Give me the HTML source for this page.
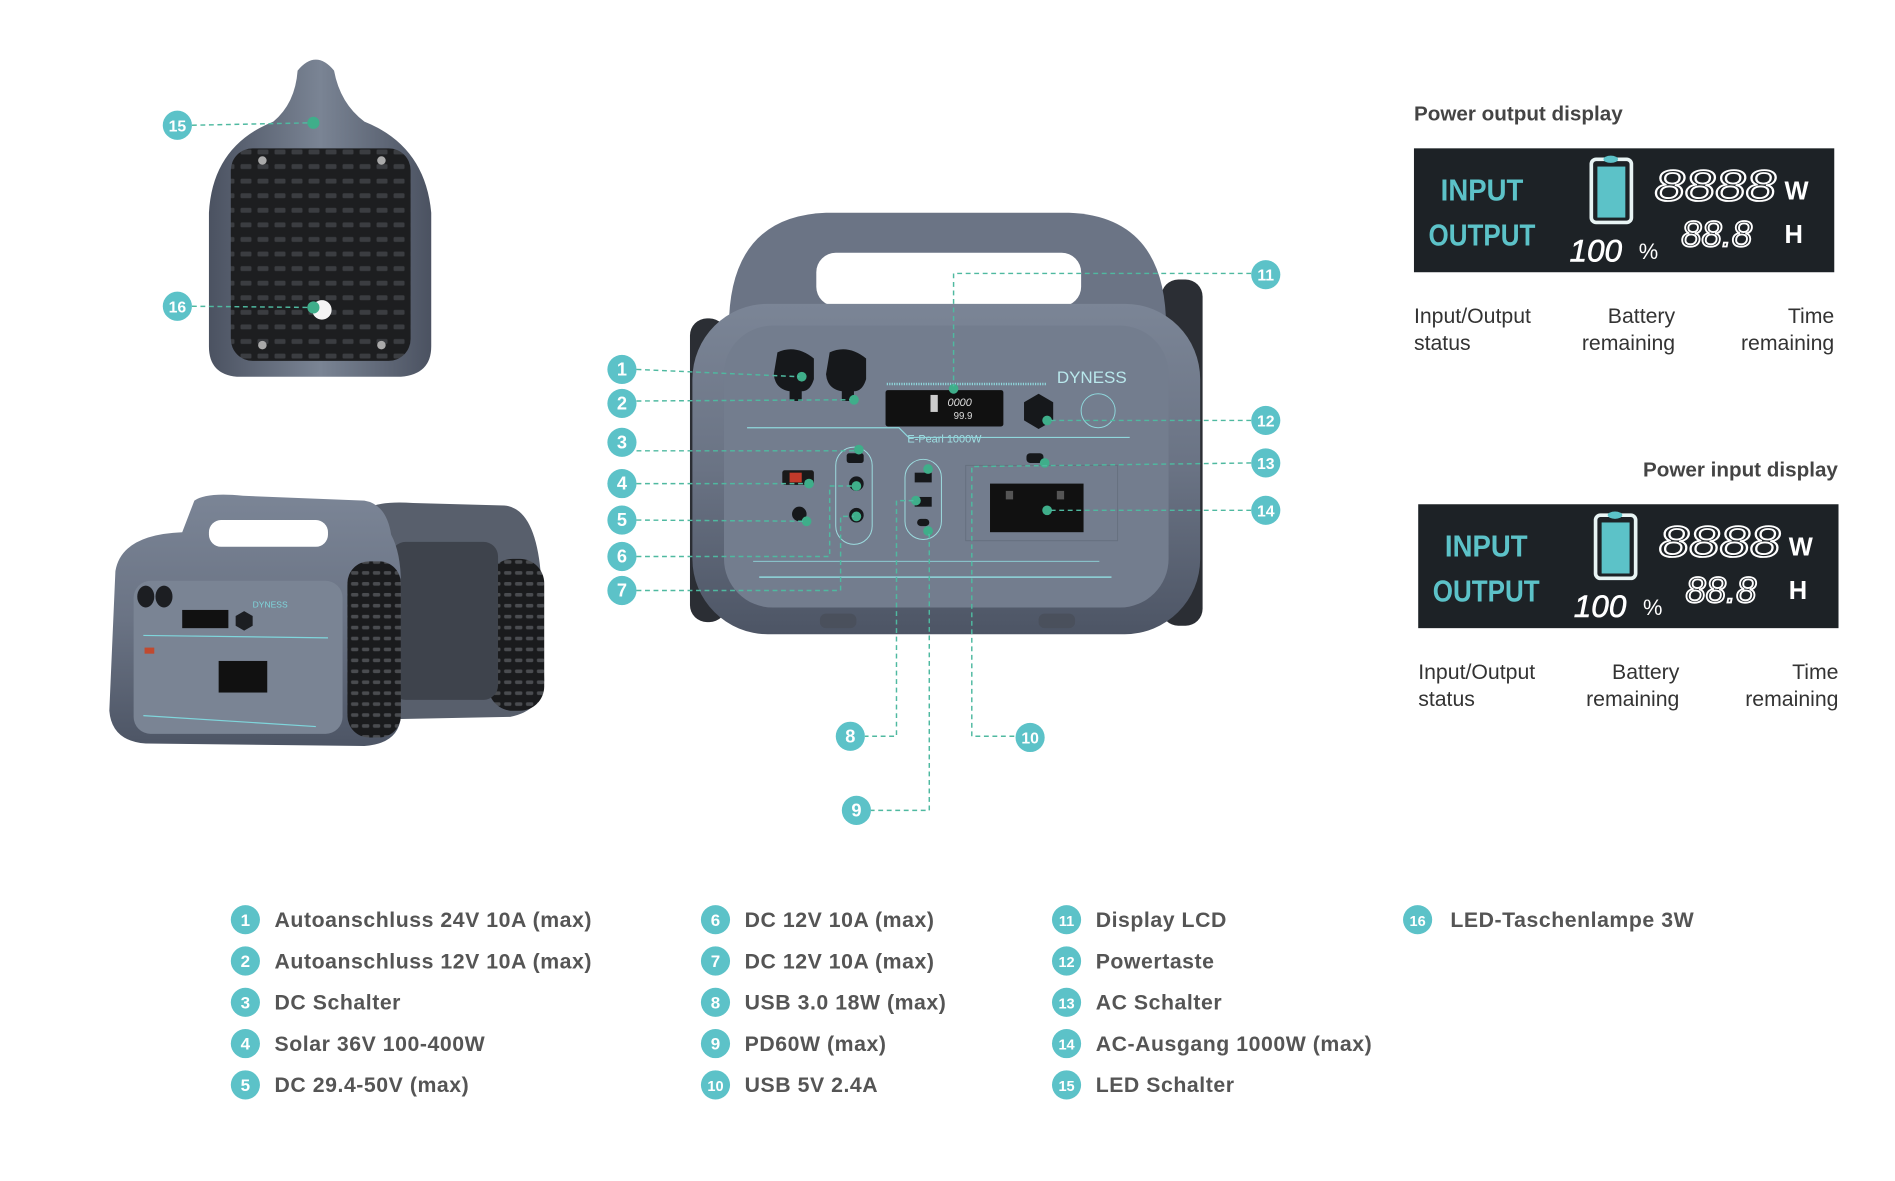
<!DOCTYPE html>
<html><head><meta charset="utf-8">
<style>
html,body{margin:0;padding:0;background:#fff;}
svg{display:block;}
text{font-family:"Liberation Sans",sans-serif;}
</style></head>
<body>
<svg width="1895" height="1181" viewBox="0 0 1560 972" xmlns="http://www.w3.org/2000/svg">
<defs>
<linearGradient id="body" x1="0" y1="0" x2="0" y2="1">
<stop offset="0" stop-color="#7b8596"/><stop offset="0.5" stop-color="#6a7384"/><stop offset="1" stop-color="#4d5565"/>
</linearGradient>
<linearGradient id="side" x1="0" y1="0" x2="1" y2="0">
<stop offset="0" stop-color="#4b5261"/><stop offset="0.5" stop-color="#7a8494"/><stop offset="1" stop-color="#4b5261"/>
</linearGradient>
<pattern id="vent" width="14" height="12" patternUnits="userSpaceOnUse">
<rect width="14" height="12" fill="#1d1e20"/><rect x="2" y="3" width="9" height="4" rx="1" fill="#3b3d41"/>
</pattern>
<pattern id="vent2" width="9" height="9" patternUnits="userSpaceOnUse">
<rect width="9" height="9" fill="#1a1b1d"/><rect x="1" y="2" width="6" height="3" rx="1" fill="#4a4c50"/>
</pattern>
</defs>

<!-- BACK VIEW -->
<path d="M245,58 Q260,40 275,58 Q280,85 300,100 Q350,120 355,175 L355,285 Q355,308 330,310 L195,310 Q172,308 172,285 L172,175 Q175,120 225,100 Q243,85 245,58 Z" fill="url(#side)"/>
<rect x="190" y="122" width="148" height="175" rx="18" fill="url(#vent)"/>
<circle cx="216" cy="132" r="3.5" fill="#aaa"/><circle cx="314" cy="132" r="3.5" fill="#aaa"/>
<circle cx="216" cy="284" r="3.5" fill="#aaa"/><circle cx="314" cy="284" r="3.5" fill="#aaa"/>
<circle cx="265" cy="255" r="8" fill="#f4f4f4"/>
<circle cx="258" cy="101" r="5" fill="#3fae8a"/><circle cx="258" cy="253" r="5" fill="#3fae8a"/>
<g stroke="#4fb9a0" stroke-width="1.2" stroke-dasharray="4,3" fill="none">
<line x1="158" y1="103" x2="256" y2="101"/><line x1="158" y1="252" x2="256" y2="253"/>
</g>

<!-- TWO DEVICES -->
<g>
<path d="M300,420 Q310,412 340,414 L415,416 Q440,418 445,470 L448,560 Q446,585 420,590 L320,592 Z" fill="#585f6c"/>
<rect x="402" y="460" width="46" height="125" rx="20" fill="url(#vent2)"/>
<rect x="322" y="446" width="88" height="130" rx="12" fill="#3e434c"/>
<path d="M95,470 Q100,440 150,438 L160,412 Q170,405 200,408 L300,412 Q318,415 322,440 Q330,455 330,480 L330,590 Q328,612 300,614 L120,612 Q92,610 90,585 Z" fill="url(#body)"/>
<rect x="172" y="428" width="98" height="22" rx="10" fill="#fff"/>
<rect x="286" y="462" width="44" height="145" rx="18" fill="url(#vent2)"/>
<rect x="110" y="478" width="172" height="126" rx="14" fill="#7a8494"/>
<ellipse cx="120" cy="491" rx="7" ry="9" fill="#1c1e22"/><ellipse cx="135" cy="491" rx="7" ry="9" fill="#1c1e22"/>
<rect x="150" y="502" width="38" height="15" fill="#111"/>
<polygon points="201,503 208,507 208,515 201,519 194,515 194,507" fill="#1c1e22"/>
<line x1="118" y1="523" x2="270" y2="525" stroke="#7fd6dc" stroke-width="1"/>
<line x1="118" y1="589" x2="260" y2="598" stroke="#7fd6dc" stroke-width="1"/>
<rect x="180" y="544" width="40" height="26" fill="#111"/>
<rect x="119" y="533" width="8" height="5" fill="#c04a30"/>
<text x="208" y="500" font-size="7" fill="#7fd6dc">DYNESS</text>
</g>

<!-- MAIN DEVICE -->
<rect x="956" y="230" width="34" height="285" rx="14" fill="#2b2e34"/>
<rect x="568" y="262" width="30" height="250" rx="14" fill="#2b2e34"/>
<path d="M600,270 Q600,178 680,175 L880,175 Q960,178 960,270 Z" fill="#6b7485"/>
<rect x="672" y="208" width="218" height="44" rx="16" fill="#fff"/>
<rect x="570" y="250" width="418" height="272" rx="62" fill="url(#body)"/>
<rect x="596" y="268" width="366" height="232" rx="40" fill="#737d8e"/>
<rect x="675" y="505" width="30" height="12" rx="5" fill="#4a505c"/>
<rect x="855" y="505" width="30" height="12" rx="5" fill="#4a505c"/>
<path d="M640,290 Q655,283 670,295 L670,312 Q667,322 660,322 L660,330 L650,330 L650,322 Q638,320 637,308 Z" fill="#16181b"/>
<path d="M683,290 Q698,283 713,295 L713,312 Q710,322 703,322 L703,330 L693,330 L693,322 Q681,320 680,308 Z" fill="#16181b"/>
<rect x="729" y="321" width="97" height="30" rx="2" fill="#111"/>
<text x="780" y="334" font-size="9" fill="#ddd" font-style="italic">0000</text>
<text x="785" y="345" font-size="8" fill="#ddd">99.9</text>
<rect x="766" y="325" width="6" height="14" fill="#ccc"/>
<text x="870" y="315" font-size="14" fill="#b9e8ec">DYNESS</text>
<line x1="730" y1="316" x2="862" y2="316" stroke="#8fd7dc" stroke-width="2" stroke-dasharray="1,1"/>
<polygon points="855,324 867,331 867,346 855,353 843,346 843,331" fill="#16181b"/>
<circle cx="904" cy="338" r="14" fill="none" stroke="#8fd7dc" stroke-width="0.8"/>
<text x="747" y="364" font-size="9" fill="#9fe0e4">E-Pearl 1000W</text>
<path d="M615,352 L740,352 L748,360 L930,360" stroke="#8fd7dc" stroke-width="1" fill="none"/>
<line x1="625" y1="475" x2="915" y2="475" stroke="#8fd7dc" stroke-width="1.2"/>
<line x1="620" y1="462" x2="905" y2="462" stroke="#8fd7dc" stroke-width="0.7"/>
<rect x="644" y="387" width="26" height="12" rx="2" fill="#1a1a1a"/><rect x="650" y="389" width="10" height="8" fill="#c23a2a"/>
<circle cx="658" cy="423" r="6" fill="#16181b"/>
<rect x="688" y="368" width="30" height="80" rx="15" fill="none" stroke="#9ddde0" stroke-width="0.8"/>
<rect x="697" y="373" width="14" height="8" rx="2" fill="#16181b"/>
<circle cx="705" cy="398" r="6" fill="#16181b"/><circle cx="705" cy="424" r="6" fill="#16181b"/>
<rect x="745" y="378" width="30" height="66" rx="15" fill="none" stroke="#9ddde0" stroke-width="0.8"/>
<rect x="753" y="389" width="14" height="8" fill="#16181b"/><rect x="753" y="409" width="14" height="8" fill="#16181b"/><rect x="755" y="427" width="10" height="6" rx="3" fill="#16181b"/>
<rect x="845" y="373" width="14" height="8" rx="3" fill="#16181b"/>
<rect x="795" y="383" width="125" height="62" fill="none" stroke="#66707f" stroke-width="0.8"/>
<rect x="815" y="398" width="77" height="40" fill="#111"/>
<rect x="828" y="404" width="6" height="7" fill="#555"/><rect x="870" y="404" width="6" height="7" fill="#555"/>
<g fill="#3fae8a">
<circle cx="660" cy="310" r="4"/><circle cx="703" cy="329" r="4"/><circle cx="785" cy="320" r="4"/>
<circle cx="707" cy="370" r="4"/><circle cx="666" cy="398" r="4"/><circle cx="664" cy="429" r="4"/>
<circle cx="705" cy="400" r="4"/><circle cx="705" cy="425" r="4"/><circle cx="862" cy="346" r="4"/>
<circle cx="860" cy="381" r="4"/><circle cx="862" cy="420" r="4"/><circle cx="764" cy="386" r="4"/>
<circle cx="754" cy="412" r="4"/><circle cx="764" cy="437" r="4"/>
</g>
<g stroke="#4fb9a0" stroke-width="1.2" stroke-dasharray="4,3" fill="none">
<line x1="524" y1="304" x2="658" y2="310"/>
<line x1="524" y1="330" x2="700" y2="329"/>
<line x1="524" y1="371" x2="705" y2="371"/>
<line x1="524" y1="398" x2="664" y2="398"/>
<line x1="524" y1="428" x2="662" y2="429"/>
<polyline points="524,458 683,458 683,400 703,400"/>
<polyline points="524,486 692,486 692,425 703,425"/>
<polyline points="1030,225 785,225 785,318"/>
<line x1="1030" y1="346" x2="864" y2="346"/>
<polyline points="1030,381 800,384 800,606 836,606"/>
<line x1="1030" y1="420" x2="864" y2="420"/>
<polyline points="752,412 738,412 738,606 712,606"/>
<polyline points="764,440 765,440 765,667 717,667"/>
</g>

<g font-size="15" font-weight="bold" fill="#fff" text-anchor="middle">
<g fill="#5cc2c8">
<circle cx="146" cy="103" r="12"/><circle cx="146" cy="252" r="12"/>
<circle cx="512" cy="304" r="12"/><circle cx="512" cy="332" r="12"/><circle cx="512" cy="364" r="12"/>
<circle cx="512" cy="398" r="12"/><circle cx="512" cy="428" r="12"/><circle cx="512" cy="458" r="12"/><circle cx="512" cy="486" r="12"/>
<circle cx="1042" cy="226" r="12"/><circle cx="1042" cy="346" r="12"/><circle cx="1042" cy="381" r="12"/><circle cx="1042" cy="420" r="12"/>
<circle cx="700" cy="606" r="12"/><circle cx="705" cy="667" r="12"/><circle cx="848" cy="607" r="12"/>
</g>
<text x="146" y="108" font-size="13">15</text><text x="146" y="257" font-size="13">16</text>
<text x="512" y="309">1</text><text x="512" y="337">2</text><text x="512" y="369">3</text>
<text x="512" y="403">4</text><text x="512" y="433">5</text><text x="512" y="463">6</text><text x="512" y="491">7</text>
<text x="1042" y="231" font-size="13">11</text><text x="1042" y="351" font-size="13">12</text><text x="1042" y="386" font-size="13">13</text><text x="1042" y="425" font-size="13">14</text>
<text x="700" y="611">8</text><text x="705" y="672">9</text><text x="848" y="612" font-size="13">10</text>
</g>

<!-- LCD PANELS -->
<g id="lcd">
<rect x="1164" y="122" width="346" height="102" fill="#1d2226"/>
<text x="1186" y="165" font-size="25" font-weight="bold" fill="#5cc2c8" textLength="68" lengthAdjust="spacingAndGlyphs">INPUT</text>
<text x="1176" y="202" font-size="25" font-weight="bold" fill="#5cc2c8" textLength="88" lengthAdjust="spacingAndGlyphs">OUTPUT</text>
<rect x="1310" y="131" width="33" height="52" rx="4" fill="none" stroke="#e8f4f4" stroke-width="3"/>
<rect x="1315" y="137" width="23" height="42" fill="#5cc2c8"/>
<ellipse cx="1326" cy="131" rx="6" ry="3" fill="#5cc2c8"/>
<text x="1362" y="165" font-size="36" font-style="italic" fill="none" stroke="#fff" stroke-width="1.5" textLength="100" lengthAdjust="spacingAndGlyphs">8888</text>
<text x="1469" y="164" font-size="21" font-weight="bold" fill="#fff">W</text>
<text x="1384" y="203" font-size="30" font-style="italic" fill="none" stroke="#fff" stroke-width="1.5">88.8</text>
<text x="1469" y="200" font-size="21" font-weight="bold" fill="#fff">H</text>
<text x="1292" y="215" font-size="26" font-style="italic" fill="#fff" stroke="#fff" stroke-width="0.5">100</text>
<text x="1349" y="213" font-size="18" fill="#fff">%</text>
<g font-size="17.5" fill="#333">
<text x="1164" y="266">Input/Output</text><text x="1164" y="288">status</text>
<text x="1379" y="266" text-anchor="end">Battery</text><text x="1379" y="288" text-anchor="end">remaining</text>
<text x="1510" y="266" text-anchor="end">Time</text><text x="1510" y="288" text-anchor="end">remaining</text>
</g>
</g>
<use href="#lcd" x="3.5" y="293"/>
<text x="1164" y="99" font-size="17" font-weight="bold" fill="#444">Power output display</text>
<text x="1513" y="392" font-size="17" font-weight="bold" fill="#444" text-anchor="end">Power input display</text>

<!-- LEGEND -->
<g font-size="17.5" font-weight="bold" fill="#555" letter-spacing="0.45">
<g fill="#5cc2c8">
<circle cx="202" cy="757" r="12"/><circle cx="202" cy="791" r="12"/><circle cx="202" cy="825" r="12"/><circle cx="202" cy="859" r="12"/><circle cx="202" cy="893" r="12"/>
<circle cx="589" cy="757" r="12"/><circle cx="589" cy="791" r="12"/><circle cx="589" cy="825" r="12"/><circle cx="589" cy="859" r="12"/><circle cx="589" cy="893" r="12"/>
<circle cx="878" cy="757" r="12"/><circle cx="878" cy="791" r="12"/><circle cx="878" cy="825" r="12"/><circle cx="878" cy="859" r="12"/><circle cx="878" cy="893" r="12"/>
<circle cx="1167" cy="757" r="12"/>
</g>
<g fill="#fff" text-anchor="middle" font-size="14" letter-spacing="0">
<text x="202" y="762">1</text><text x="202" y="796">2</text><text x="202" y="830">3</text><text x="202" y="864">4</text><text x="202" y="898">5</text>
<text x="589" y="762">6</text><text x="589" y="796">7</text><text x="589" y="830">8</text><text x="589" y="864">9</text><text x="589" y="898" font-size="12">10</text>
<text x="878" y="762" font-size="12">11</text><text x="878" y="796" font-size="12">12</text><text x="878" y="830" font-size="12">13</text><text x="878" y="864" font-size="12">14</text><text x="878" y="898" font-size="12">15</text>
<text x="1167" y="762" font-size="12">16</text>
</g>
<text x="226" y="763">Autoanschluss 24V 10A (max)</text>
<text x="226" y="797">Autoanschluss 12V 10A (max)</text>
<text x="226" y="831">DC Schalter</text>
<text x="226" y="865">Solar 36V 100-400W</text>
<text x="226" y="899">DC 29.4-50V (max)</text>
<text x="613" y="763">DC 12V 10A (max)</text>
<text x="613" y="797">DC 12V 10A (max)</text>
<text x="613" y="831">USB 3.0 18W (max)</text>
<text x="613" y="865">PD60W (max)</text>
<text x="613" y="899">USB 5V 2.4A</text>
<text x="902" y="763">Display LCD</text>
<text x="902" y="797">Powertaste</text>
<text x="902" y="831">AC Schalter</text>
<text x="902" y="865">AC-Ausgang 1000W (max)</text>
<text x="902" y="899">LED Schalter</text>
<text x="1194" y="763">LED-Taschenlampe 3W</text>
</g>
</svg>
</body></html>
